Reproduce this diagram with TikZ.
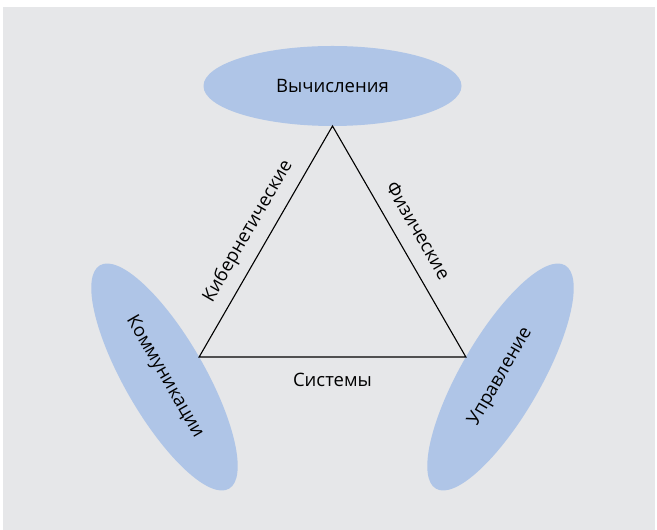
\documentclass[tikz,border=0pt]{standalone}
\usepackage{fontspec}
\setmainfont{Open Sans}
\usetikzlibrary{shapes.geometric}
\definecolor{bggray}{HTML}{E6E7E9}
\definecolor{ovalblue}{HTML}{AFC5E7}

\begin{document}
\begin{tikzpicture}[x=1pt, y=1pt,
	oval/.style={ellipse, fill=ovalblue, minimum width=258pt, minimum height=80pt, inner sep=0pt, font=\fontsize{18.5}{22}\selectfont},
	side/.style={font=\fontsize{18.5}{22}\selectfont, inner sep=0pt, text height=14pt, text depth=4pt}]
	\useasboundingbox (0,0) rectangle (657,530);
	\fill [bggray] (3,0) rectangle (655,523);
	\begin{scope}[shift={(332.5,250)}]
		\coordinate (vtop) at (90:154);
		\coordinate (vleft) at (210:154);
		\coordinate (vright) at (330:154);
		\node [oval] (comp) at (90:194) {Вычисления};
		\node [oval, rotate=-60] (comm) at (210:194) {Коммуникации};
		\node [oval, rotate=60] (ctrl) at (330:194) {Управление};
	\end{scope}
	\draw [line width=1.1pt] (vleft) -- node [side, sloped, above=11pt] (cyber) {Кибернетические} (vtop)
		-- node [side, sloped, above=11pt] (phys) {Физические} (vright)
		-- node [side, below=15pt] (sys) {Системы} cycle;
\end{tikzpicture}
\end{document}
